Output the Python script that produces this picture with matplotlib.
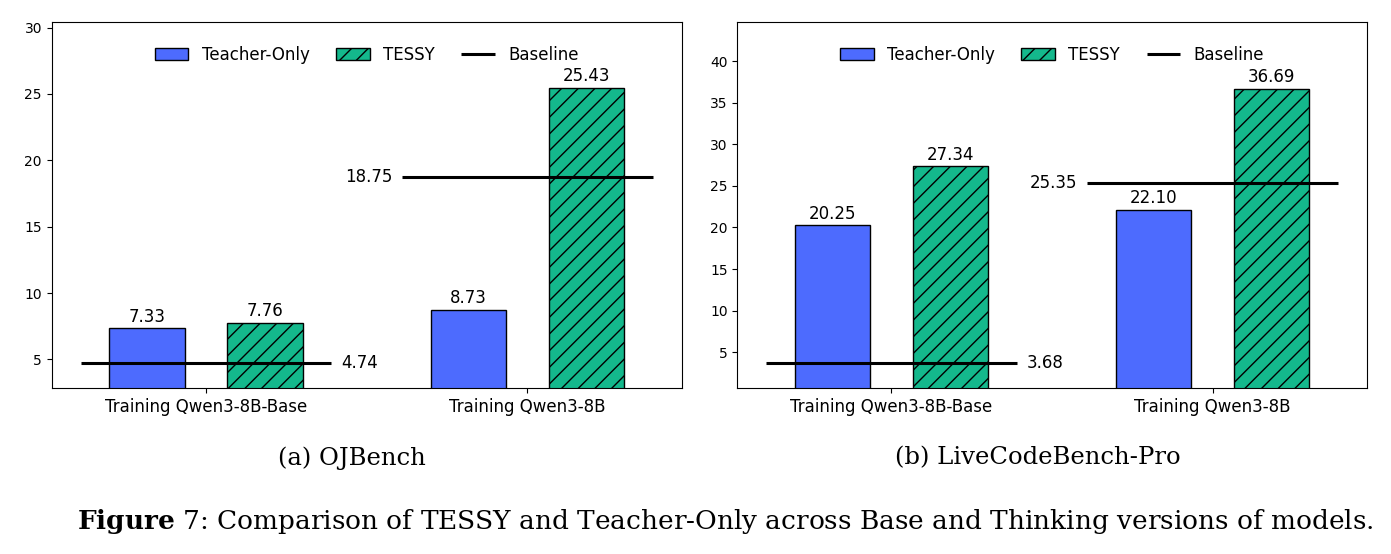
import numpy as np
import matplotlib
matplotlib.use("Agg")
import matplotlib.pyplot as plt

# data
groups = ["Training Qwen3-8B-Base", "Training Qwen3-8B"]
oj_teacher = [7.33, 8.73]
oj_tessy = [7.76, 25.43]
oj_baseline = [4.74, 18.75]
lcb_teacher = [20.25, 22.10]
lcb_tessy = [27.34, 36.69]
lcb_baseline = [3.68, 25.35]
oj_ticks = [5, 10, 15, 20, 25, 30]
lcb_ticks = [5, 10, 15, 20, 25, 30, 35, 40]

BLUE = "#4D6BFE"
GREEN = "#14B88C"

W, H = 1391, 554
fig = plt.figure(figsize=(W / 100, H / 100), dpi=100)


def draw_panel(ax, teacher, tessy, baseline, ticks, ylim):
    x = np.arange(len(groups))
    w = 0.235
    off = 0.184
    b1 = ax.bar(x - off, teacher, w, color=BLUE, edgecolor="black", linewidth=1,
                label="Teacher-Only")
    b2 = ax.bar(x + off, tessy, w, color=GREEN, edgecolor="black", linewidth=1,
                hatch="//", label="TESSY")
    for bars in (b1, b2):
        for r in bars:
            h = r.get_height()
            ax.annotate(f"{h:.2f}", (r.get_x() + r.get_width() / 2, h),
                        xytext=(0, 2), textcoords="offset points",
                        ha="center", va="bottom", fontsize=12)
    line = None
    for i, v in enumerate(baseline):
        line = ax.hlines(v, i - 0.39, i + 0.39, color="black", linewidth=2.2,
                         label="Baseline", zorder=3)
        if i == 0:
            ax.text(i + 0.42, v, f"{v:.2f}", ha="left", va="center", fontsize=12)
        else:
            ax.text(i - 0.42, v, f"{v:.2f}", ha="right", va="center", fontsize=12)
    ax.set_xticks(x)
    ax.set_xticklabels(groups, fontsize=12)
    ax.set_yticks(ticks)
    ax.tick_params(axis="y", labelsize=10)
    ax.set_xlim(-0.48, 1.48)
    ax.set_ylim(*ylim)
    ax.legend(handles=[b1, b2, line], loc="center", bbox_to_anchor=(0.5, 0.911),
              ncol=3, frameon=False, fontsize=12, columnspacing=1.6)


ax1 = fig.add_axes([51.7 / W, 1 - 388.3 / H, 630 / W, 366 / H])
draw_panel(ax1, oj_teacher, oj_tessy, oj_baseline, oj_ticks, (2.82, 30.4))
ax2 = fig.add_axes([737.3 / W, 1 - 388.3 / H, 629.4 / W, 366 / H])
draw_panel(ax2, lcb_teacher, lcb_tessy, lcb_baseline, lcb_ticks, (0.68, 44.65))

plt.rcParams["mathtext.fontset"] = "dejavuserif"
fig.text(352 / W, 1 - 458 / H, "(a) OJBench", ha="center", va="center",
         family="DejaVu Serif", fontsize=17.5)
fig.text(1038 / W, 1 - 458 / H, "(b) LiveCodeBench-Pro", ha="center", va="center",
         family="DejaVu Serif", fontsize=17.5)
fig.text(725 / W, 1 - 521 / H,
         r"$\mathbf{Figure}$ 7: Comparison of TESSY and Teacher-Only across Base and Thinking versions of models.",
         ha="center", va="center", family="DejaVu Serif", fontsize=19)

fig.savefig("out.png", dpi=100)
